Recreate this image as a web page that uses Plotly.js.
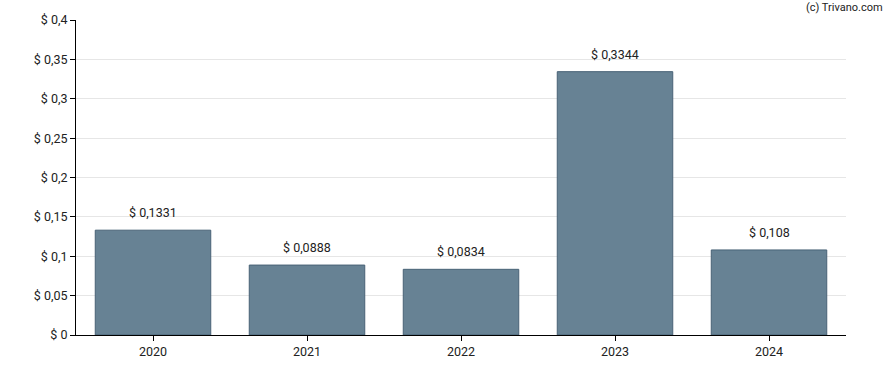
<!DOCTYPE html>
<html>
<head>
<meta charset="utf-8">
<script src="https://cdn.plot.ly/plotly-3.0.1.min.js"></script>
<style>html,body{margin:0;padding:0;background:#fff;}#chart{width:888px;height:370px;}</style>
</head>
<body>
<div id="chart"></div>
<script>
const years = ['2020', '2021', '2022', '2023', '2024'];
const values = [0.1331, 0.0888, 0.0834, 0.3344, 0.108];
const labels = ['$ 0,1331', '$ 0,0888', '$ 0,0834', '$ 0,3344', '$ 0,108'];

const fontFam = 'Roboto, Arial, sans-serif';

const trace = {
  type: 'bar',
  x: years,
  y: values,
  marker: {color: 'rgb(103,130,148)', line: {color: 'rgb(72,98,118)', width: 1}},
  hoverinfo: 'skip'
};

const annotations = years.map((yr, i) => ({
  x: i, y: values[i], xref: 'x', yref: 'y',
  text: labels[i], showarrow: false,
  yanchor: 'bottom', yshift: 8,
  font: {family: fontFam, size: 12.5, color: '#222'}
}));
annotations.push({
  x: 1, y: 1, xref: 'paper', yref: 'paper', xanchor: 'right', yanchor: 'bottom',
  xshift: 39, yshift: 4,
  text: '(c) Trivano.com', showarrow: false,
  font: {family: fontFam, size: 11, color: '#222'}
});

const layout = {
  width: 888, height: 370,
  margin: {l: 76, r: 42, t: 20, b: 35},
  paper_bgcolor: '#fff', plot_bgcolor: '#fff',
  separators: ',.',
  showlegend: false,
  bargap: 0.25,
  font: {family: fontFam, size: 12.5, color: '#222'},
  xaxis: {
    type: 'category',
    categoryorder: 'array', categoryarray: years,
    range: [-0.5, years.length - 0.5],
    showline: true, linecolor: '#000', linewidth: 1,
    ticks: 'outside', ticklen: 5, tickcolor: '#000',
    showgrid: false, fixedrange: true,
    tickfont: {family: fontFam, size: 12.5, color: '#222'}
  },
  yaxis: {
    range: [0, 0.4], dtick: 0.05, tick0: 0,
    tickprefix: '$ ',
    showline: true, linecolor: '#000', linewidth: 1,
    ticks: 'outside', ticklen: 5, tickcolor: '#000',
    gridcolor: '#e6e6e6', zeroline: false,
    tickfont: {family: fontFam, size: 12.5, color: '#222'}
  },
  annotations: annotations
};

Plotly.newPlot('chart', [trace], layout, {displayModeBar: false, staticPlot: true});
</script>
</body>
</html>
